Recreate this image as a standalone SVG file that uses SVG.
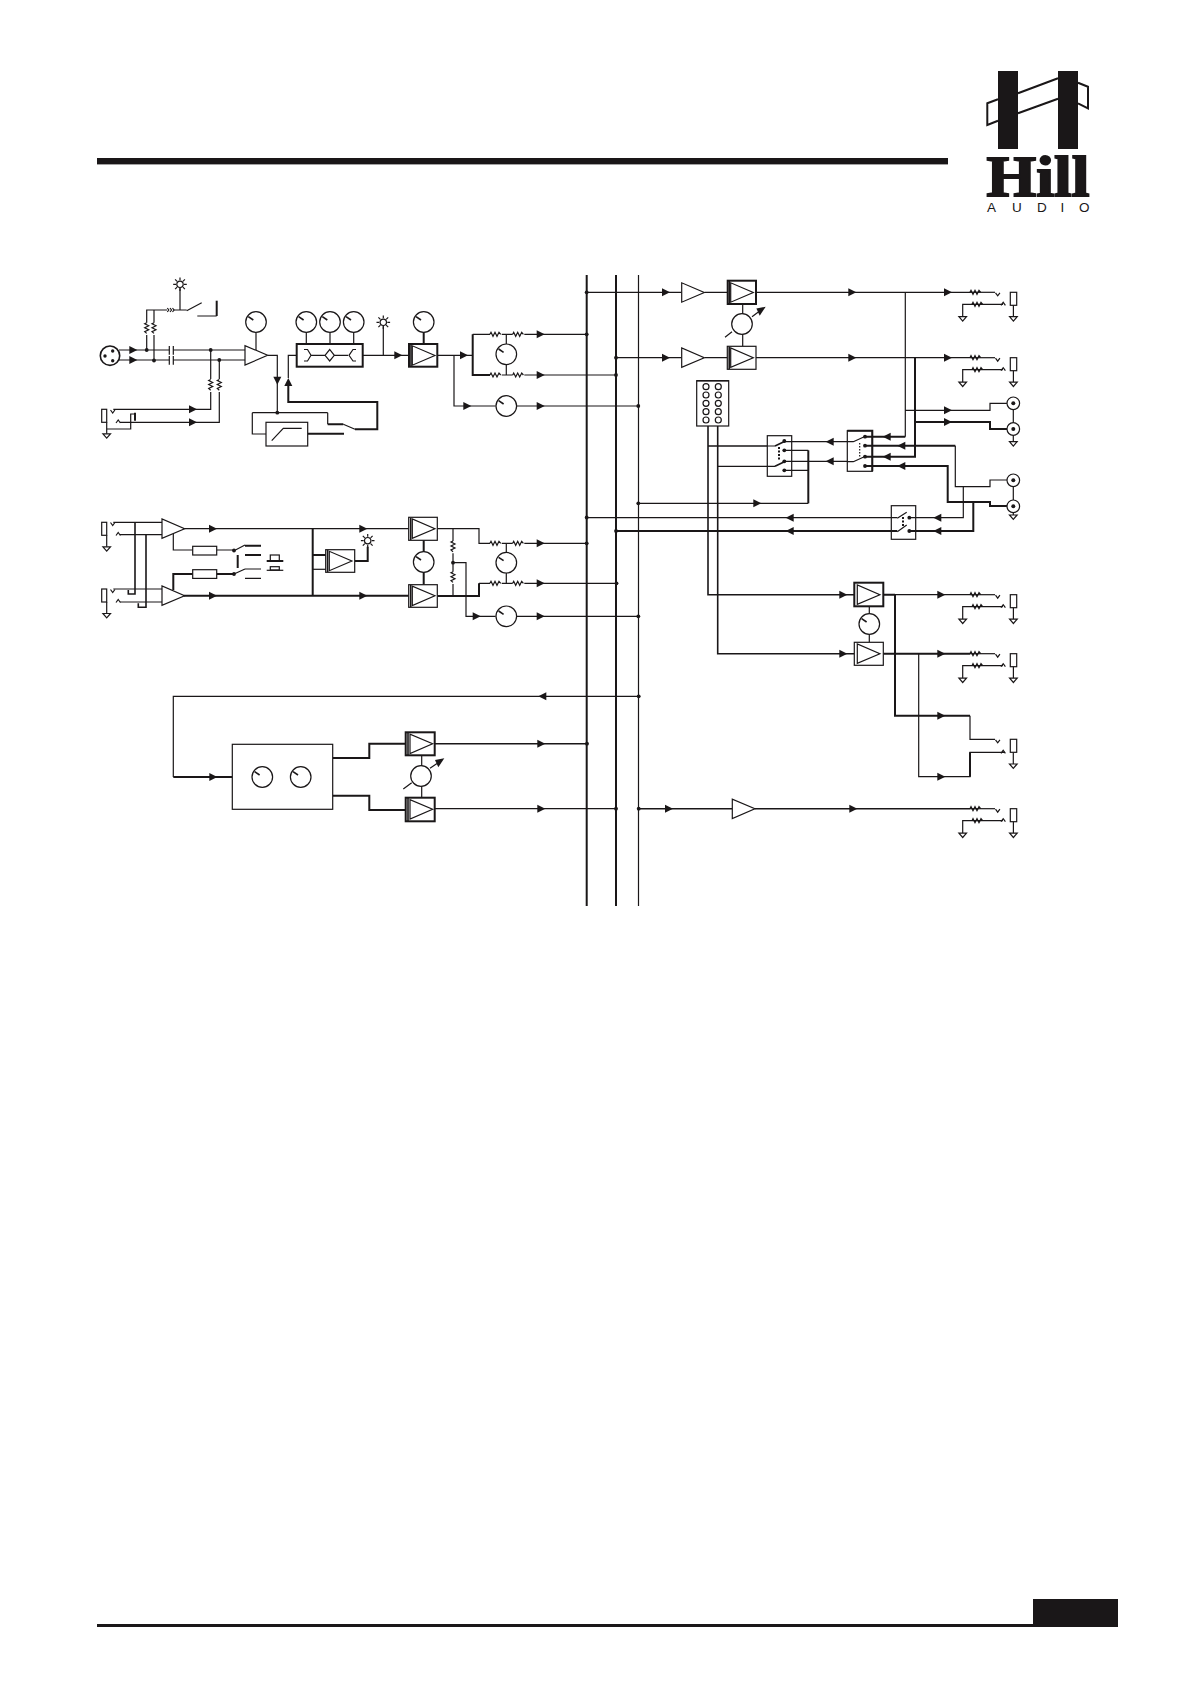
<svg xmlns="http://www.w3.org/2000/svg" width="1191" height="1685" viewBox="0 0 1191 1685">
<style>
.t{fill:none;stroke:#1a1718;stroke-width:1.2}
.k{fill:none;stroke:#1a1718;stroke-width:2}
.m{fill:none;stroke:#1a1718;stroke-width:1.6}
.b{fill:#fff;stroke:#1a1718;stroke-width:1.2}
.bk{fill:#fff;stroke:#1a1718;stroke-width:2}
.f{fill:#1a1718;stroke:none}
</style>
<defs>
<polygon id="ar" class="f" points="0,-4 8,0 0,4"/>
<polygon id="al" class="f" points="0,0 8,-4 8,4"/>
<polygon id="ad" class="f" points="-4,0 4,0 0,8"/>
<polygon id="au" class="f" points="-4,8 4,8 0,0"/>
<circle id="d" class="f" r="1.9"/>
<path id="rh" class="t" d="M0 0l1-2 2 4 2-4 2 4 2-4 1.7 2"/>
<path id="rv" class="t" d="M0 0l-2 1 4 2-4 2 4 2-4 2 2 1.7"/>
<g id="knob"><circle class="b" r="10.3"/><path class="m" d="M-7.7-5.3L-2.7-2"/></g>
<polygon id="tri" class="b" points="0,-9.7 0,9.7 22.6,0"/>
<g id="gnd"><path class="t" d="M-3.8 0H3.8L0 4.4Z"/></g>
<g id="led"><circle class="b" r="3.2"/><path class="t" d="M0-4V-6.8M0 4V6.8M-4 0H-6.8M4 0H6.8M-2.9-2.9L-4.9-4.9M2.9-2.9L4.9-4.9M-2.9 2.9L-4.9 4.9M2.9 2.9L4.9 4.9"/></g>
<g id="injack"><rect class="b" width="5" height="13"/><path class="t" d="M5 13V24.5"/><use href="#gnd" x="5" y="24.5"/></g>
<g id="tipv"><path class="t" d="M0 0l2.2 3 2.2-3"/></g>
<g id="tipc"><path class="t" d="M0 0l2.2-3 2.2 3"/></g>
<g id="out">
<path class="t" d="M0 0H25"/><use href="#rh" x="0" y="0"/>
<use href="#tipv" x="25.5" y="0.5"/>
<path class="t" d="M-7.3 24.4V12H33"/><use href="#rh" x="2" y="12"/>
<use href="#gnd" x="-7.3" y="24.4"/>
<use href="#tipc" x="31" y="13"/>
<rect class="b" x="40.3" y="0" width="6.4" height="13"/>
<path class="t" d="M43.4 13V24.4"/><use href="#gnd" x="43.4" y="24.4"/>
</g>
<g id="rca"><circle class="b" r="6.3"/><circle class="f" r="2"/></g>
</defs>
<rect width="1191" height="1685" fill="#fff"/>
<g id="page-rules">
<rect class="f" x="97" y="158" width="851" height="6.4"/>
<rect class="f" x="97" y="1624" width="1021" height="3"/>
<rect class="f" x="1033" y="1599" width="85" height="28"/>
</g>
<g id="logo">
<rect class="f" x="998" y="71" width="20" height="78"/>
<rect class="f" x="1058" y="71" width="20" height="78"/>
<path class="k" d="M998 99.3L987.3 103.3V125L998 120.7M1018 93.3L1058 78.3M1018 113.3L1058 98.7M1078 82.7L1088 86.7V108.3L1078 103.3"/>
<text x="986.5" y="196" font-family="'Liberation Serif',serif" font-weight="700" font-size="57" textLength="103" lengthAdjust="spacingAndGlyphs" fill="#1a1718" stroke="#1a1718" stroke-width="1.8">Hill</text>
<text y="212.3" x="987 1012 1037 1060.5 1079" font-family="'Liberation Sans',sans-serif" font-size="13.5" fill="#1a1718">AUDIO</text>
</g>
<g id="connectors">
<!-- buses -->
<path class="k" d="M586.7 275V906M616 275V906"/>
<path class="t" d="M638.5 275V906"/>
<!-- mic input -->
<path class="t" d="M119 350H169.3M173.3 350H245M119 360H169.3M173.3 360H245"/>
<path class="t" d="M169.3 346V354.7M173.3 346V354.7M169.3 356V364.7M173.3 356V364.7"/>
<path class="t" d="M146.7 350V335M146.7 322.7V310H167M154 360.7V335M154 322.7V310M174 310H186.7M180 288V310"/>
<path class="t" d="M167.3 308l1.5 2-1.5 2M170 308l1.5 2-1.5 2M172.5 308l1.5 2-1.5 2"/>
<path class="t" d="M186.7 310.7L201.7 302.7M197.3 316H216.7"/><path class="k" d="M216.7 316V300.7"/>
<use href="#rv" x="146.7" y="322.7"/><use href="#rv" x="154" y="322.7"/>
<path class="t" d="M113.3 409.3H210.7V392M210.7 379V350M120 422.3H219.3V392M219.3 379V360"/>
<use href="#rv" x="210.7" y="379.5"/><use href="#rv" x="219.3" y="379.5"/>
<path class="t" d="M106.7 429H130.7V414H135"/><path class="k" d="M135 412.7V420.7"/>
<path class="t" d="M256 332.7V350M267.7 355.3H277.3V412.7"/>
<path class="t" d="M288.3 378V355.3H296.7M252.3 412.7H327.7M327.7 412.7V424.3M252.3 412.7V434H266M355 429.3L343.3 424.3"/>
<path class="k" d="M288.3 385V402H377.3V429.3H355M343.3 424.3H327.7M307.7 433.7H344"/>
<path class="t" d="M306.3 332V344M330 332V344M353.7 332V344M362.7 355.3H409M383.3 326V355.3"/>
<path class="k" d="M423.7 332V344"/>
<path class="t" d="M437.3 355.3H472.7M454 355.3V406H495.7M517 406H638.3"/>
<path class="k" d="M472.7 334.3V375H490"/>
<path class="t" d="M472.7 334.3H490M524.3 334.3H586.7M501.7 334.3H512.7M501.7 375H512.7M524.3 375H616M506.3 334.3V344M506.3 364.6V375"/>
<path class="t" d="M586.7 292.3H681.7M616 357.7H681.7M704.7 292.3H727.7M704.7 357.7H727.3"/>
<path class="t" d="M742.7 304V314M742.7 334V346.3M725 337.3L732 331.7M752 316.7L759 311.6"/>
<path class="t" d="M756 292.3H970M756 357.7H970M905.3 292.3V436.7M905.3 410.3H990V403.3H1007M915 357.7V456.7"/>
<path class="k" d="M915 357.7V456.7H865M905.3 436.7H865M915 422H990V429H1007M865 445.7H955.3M865 466H947.7V502H990V506H1007M973.3 501V531H909.3"/>
<path class="t" d="M955.3 445.7V486.7H990V480H1007M963.3 486.7V517.7H909.3M1013.3 409.6V422.7M1013.3 435.3V441.7M1013.3 486.6V500M1013.3 512.6V515"/>
<!-- routing -->
<path class="m" d="M708 426V594.7H854.3M717.7 426V653.7H854.3M708 446H775"/>
<path class="t" d="M717.7 466.3H775M784.3 441.7H853.3M784.3 461.3H853.3M784.3 450.3H808.3M784.3 470.3H808.3M808.3 503.3H638.3"/>
<path class="k" d="M808.3 450.3V503.3"/>
<path class="t" d="M897.3 517.7H586.7"/><path class="k" d="M897.3 531H616"/>
<!-- outputs -->
<path class="k" d="M883.3 594.7H895M895 594.7V715.7H970M883.3 653.7H970"/>
<path class="t" d="M895 594.7H970M918.7 653.7V776.7H970V752.3H1005M970 715.7V739.3H995"/>
<path class="k" d="M970 752.3V776.7"/>
<path class="t" d="M1013.3 752.3V764"/>
<path class="t" d="M869.3 606.3V613.7M869.3 634.3V642.3"/>
<!-- line input -->
<path class="t" d="M113.3 522.3H162M120 534.7H162M113.3 589H162M120 602H162"/>
<path class="m" d="M135 522.3V594H128.3V590M146 534.7V607.3H138.3V603.3"/>
<path class="t" d="M184.3 528.7H408.7M173.3 533V550H192.7M216.7 550H233.3M245 569H261M245 578.3H261"/>
<path class="k" d="M184 595.7H408.7M173.3 590V574H192.7M216.7 574H233.3M245 545.7H261M245 555H261M312.7 528.7V595.7M312.7 555H326M354.7 561H367.7V546.7M237.7 555V568"/>
<path class="t" d="M312.7 569.3H326"/>
<path class="k" d="M423.7 540.3V552M423.7 572V584.7"/>
<path class="t" d="M437.3 528.7H479V543.3H490M501.7 543.3H512.7M524.3 543.3H586.7M453 528.7V541M453 553.3V571.7M453 584V596M453 562.7H466V616.3H495.7M517 616.3H638.3M479 583.3H490M501.7 583.3H512.7M524.3 583.3H616M506.3 543.3V552.5M506.3 573V583.3"/>
<path class="k" d="M437.3 596H479V583.3"/>
<path class="t" d="M234 550.7L245 545M234 574L245 569"/>
<!-- effects return -->
<path class="t" d="M638.7 696.3H173.3V777"/><path class="k" d="M173.3 777H232.3M332.7 758H369.3V743.7H405.7M332.7 795.7H369.3V810H405.7"/>
<path class="t" d="M421.7 755.3V766M421.7 786V797.7M403.3 789L411.7 782.7M430 768.3L437 763.4"/>
<path class="m" d="M434.7 743.7H587"/><path class="t" d="M434.7 808.7H616"/>
<path class="m" d="M638.5 808.7H732.3M754.7 808.7H970"/>
<!-- arrowheads -->
<use href="#ar" x="129.3" y="350"/><use href="#ar" x="129.3" y="360"/>
<use href="#ar" x="189" y="409.3"/><use href="#ar" x="189" y="422.3"/>
<use href="#ad" x="277.3" y="376.7"/><use href="#au" x="288.3" y="378"/>
<use href="#ar" x="394.3" y="355.3"/><use href="#ar" x="460" y="355.3"/>
<use href="#ar" x="536.7" y="334.3"/><use href="#ar" x="536.7" y="375"/>
<use href="#ar" x="463.3" y="406"/><use href="#ar" x="536.7" y="406"/>
<use href="#ar" x="662" y="292.3"/><use href="#ar" x="662" y="357.7"/>
<use href="#ar" x="848.3" y="292.3"/><use href="#ar" x="848.3" y="357.7"/>
<use href="#ar" x="944" y="292.3"/><use href="#ar" x="944" y="357.7"/>
<use href="#ar" x="944" y="410.3"/><use href="#ar" x="944" y="422"/>
<use href="#al" x="882.7" y="436.7"/><use href="#al" x="897.3" y="445.7"/>
<use href="#al" x="882.7" y="456.7"/><use href="#al" x="897.3" y="466"/>
<use href="#al" x="825.7" y="441.7"/><use href="#al" x="825.7" y="461.3"/>
<use href="#ar" x="753.3" y="503.3"/>
<use href="#al" x="933.3" y="517.7"/><use href="#al" x="933.3" y="531"/>
<use href="#al" x="785.7" y="517.7"/><use href="#al" x="785.7" y="531"/>
<use href="#ar" x="839.3" y="594.7"/><use href="#ar" x="839.3" y="653.7"/>
<use href="#ar" x="937.3" y="594.7"/><use href="#ar" x="937.3" y="653.7"/>
<use href="#ar" x="937.3" y="715.7"/><use href="#ar" x="937.3" y="776.7"/>
<use href="#ar" x="209" y="528.7"/><use href="#ar" x="209" y="595.7"/>
<use href="#ar" x="359.3" y="528.7"/><use href="#ar" x="359.3" y="595.7"/>
<use href="#ar" x="536.7" y="543.3"/><use href="#ar" x="536.7" y="583.3"/>
<use href="#ar" x="472.7" y="616.3"/><use href="#ar" x="536.7" y="616.3"/>
<use href="#al" x="538.3" y="696.3"/><use href="#ar" x="209.3" y="777"/>
<use href="#ar" x="537.3" y="743.7"/><use href="#ar" x="537.3" y="808.7"/>
<use href="#ar" x="665" y="808.7"/><use href="#ar" x="849.3" y="808.7"/>
<polygon class="f" points="444.3,758.3 435,760 438.3,767.3"/>
<polygon class="f" points="765.7,306.7 756.4,308.4 759.7,315.7"/>
<!-- junction dots -->
<use href="#d" x="586.7" y="292.3"/><use href="#d" x="616" y="357.7"/>
<use href="#d" x="586.7" y="334.3"/><use href="#d" x="616" y="375"/><use href="#d" x="638.3" y="406"/>
<use href="#d" x="638.3" y="503.3"/><use href="#d" x="586.7" y="517.5"/><use href="#d" x="616" y="531"/>
<use href="#d" x="586.7" y="543.3"/><use href="#d" x="616.5" y="583.3"/><use href="#d" x="638.3" y="616.3"/>
<use href="#d" x="638.7" y="696.3"/><use href="#d" x="587" y="743.7"/><use href="#d" x="616" y="808.7"/><use href="#d" x="638.7" y="808.7"/>
<use href="#d" x="146.7" y="350"/><use href="#d" x="154" y="360.5"/><use href="#d" x="210.7" y="350"/><use href="#d" x="219.3" y="360"/>
<use href="#d" x="277.3" y="412.7"/><use href="#d" x="453" y="562.7"/>
</g>
<g id="node-xlr"><circle class="m" cx="110" cy="355.7" r="9.7"/><circle class="f" cx="112.7" cy="351" r="1.7"/><circle class="f" cx="105" cy="356" r="1.7"/><circle class="f" cx="112.7" cy="360.7" r="1.7"/></g>
<g id="node-phantom-led"><use href="#led" x="180" y="284.3"/></g>
<g id="node-jack-insert"><use href="#injack" x="101.7" y="409.3"/><use href="#tipv" x="110.5" y="410"/><use href="#tipc" x="116" y="423"/></g>
<g id="node-preamp"><use href="#tri" x="245" y="355.3"/><use href="#knob" x="256" y="322"/></g>
<g id="node-hpf"><rect class="b" x="266" y="422.3" width="41.7" height="23.7"/><path class="t" d="M271.7 440.7L283.3 428.3H301.7"/></g>
<g id="node-eq">
<rect class="bk" x="296.7" y="344" width="66" height="22.7"/>
<path class="t" d="M304 349.5H307.5L311 355.3 307.5 361H304M311 355.3H325M325 355.3L329.7 349.5 334.3 355.3 329.7 361ZM334.3 355.3H348M356 349.5H353L349 355.3 353 361H356"/>
<use href="#knob" x="306.3" y="322"/><use href="#knob" x="330" y="322"/><use href="#knob" x="353.7" y="322"/>
</g>
<g id="node-peak-led"><use href="#led" x="383.3" y="322.3"/></g>
<g id="node-fader-1"><rect class="bk" x="409" y="344" width="28.3" height="22.7"/><path class="m" d="M411 345V366"/><use href="#tri" x="412.3" y="355.5"/><use href="#knob" x="423.7" y="322"/></g>
<g id="node-pan-1"><use href="#knob" x="506.3" y="354.3"/><use href="#rh" x="490" y="334.3"/><use href="#rh" x="512.7" y="334.3"/><use href="#rh" x="490" y="375"/><use href="#rh" x="512.7" y="375"/></g>
<g id="node-aux-1"><use href="#knob" x="506.3" y="406"/></g>
<g id="node-jack-a"><use href="#injack" x="101.7" y="522.3"/><use href="#tipv" x="110.5" y="522.5"/><use href="#tipc" x="116" y="535.5"/></g>
<g id="node-jack-b"><use href="#injack" x="101.7" y="589"/><use href="#tipv" x="110.5" y="589.5"/><use href="#tipc" x="116" y="602.5"/></g>
<g id="node-stereo-a"><use href="#tri" x="162" y="528.7"/></g>
<g id="node-stereo-b"><use href="#tri" x="162" y="595.7"/></g>
<g id="node-filter"><rect class="b" x="192.7" y="546.3" width="24" height="8.7"/><rect class="b" x="192.7" y="569.7" width="24" height="8.7"/>
<use href="#d" x="234" y="550.5"/><use href="#d" x="234" y="574"/></g>
<g id="node-pushbutton"><rect class="t" x="270.3" y="555" width="9" height="6"/><path class="k" d="M266.7 561H283.3"/><rect class="t" x="270.3" y="566.7" width="9" height="3.3"/><path class="t" d="M266.7 570.3H283.3"/></g>
<g id="node-meter-amp"><rect class="b" x="325.7" y="549.7" width="29" height="22.6"/><path class="m" d="M327.6 550V572"/><use href="#tri" x="329.3" y="561"/><use href="#led" x="367.7" y="540.7"/></g>
<g id="node-fader-2"><rect class="b" x="408.7" y="517.3" width="28.6" height="23"/><path class="m" d="M410.7 518V540"/><use href="#tri" x="412.3" y="528.7"/><rect class="b" x="408.7" y="584.7" width="28.6" height="22.6"/><path class="m" d="M410.7 585V607"/><use href="#tri" x="412.3" y="595.8"/><use href="#knob" x="423.7" y="562"/></g>
<g id="node-mix-res"><use href="#rv" x="453" y="541"/><use href="#rv" x="453" y="571.7"/></g>
<g id="node-pan-2"><use href="#knob" x="506.3" y="562.7"/><use href="#rh" x="490" y="543.3"/><use href="#rh" x="512.7" y="543.3"/><use href="#rh" x="490" y="583.3"/><use href="#rh" x="512.7" y="583.3"/></g>
<g id="node-aux-2"><use href="#knob" x="506.3" y="616.3"/></g>
<g id="node-fx"><rect class="b" x="232.3" y="744.3" width="100.4" height="65"/><use href="#knob" x="262.3" y="777"/><use href="#knob" x="300.7" y="777"/></g>
<g id="node-fx-amps"><rect class="bk" x="405.7" y="732.3" width="29" height="23"/><path class="m" d="M408 733V755"/><use href="#tri" x="410" y="743.8"/><rect class="bk" x="405.7" y="797.7" width="29" height="23.6"/><path class="m" d="M408 798V821"/><use href="#tri" x="410" y="809.3"/><circle class="b" cx="421" cy="776" r="10.3"/></g>
<g id="node-main-amps">
<use href="#tri" x="681.7" y="292.5"/><use href="#tri" x="681.7" y="357.7"/>
<rect class="bk" x="727.7" y="280.7" width="28.3" height="23.3"/><path class="m" d="M729.4 281V304"/><use href="#tri" x="730.7" y="292.5"/>
<rect class="b" x="727.3" y="346.3" width="28.7" height="23"/><path class="m" d="M729.2 347V369"/><use href="#tri" x="730.7" y="357.7"/>
<circle class="b" cx="742" cy="324" r="10.3"/>
</g>
<g id="node-matrix"><rect class="b" x="696.7" y="380.7" width="32" height="45.3"/><path class="m" d="M696.7 380.7H728.7"/>
<g class="t"><circle cx="706" cy="386.7" r="3"/><circle cx="718.3" cy="386.7" r="3"/><circle cx="706" cy="395" r="3"/><circle cx="718.3" cy="395" r="3"/><circle cx="706" cy="403.3" r="3"/><circle cx="718.3" cy="403.3" r="3"/><circle cx="706" cy="411.7" r="3"/><circle cx="718.3" cy="411.7" r="3"/><circle cx="706" cy="420" r="3"/><circle cx="718.3" cy="420" r="3"/></g></g>
<g id="node-switch-1"><rect class="b" x="767.3" y="435.7" width="24.4" height="40.6"/>
<path class="t" d="M767.3 446H775M767.3 466.3H775M784.3 441.7H791.7M784.3 450.3H791.7M784.3 461.3H791.7M784.3 470.3H791.7"/>
<path class="m" d="M775 446L786 440.7M775 466.3L786 461"/><path class="k" d="M779 447V460" stroke-dasharray="2 1.5"/>
<use href="#d" x="784.3" y="441"/><use href="#d" x="784.3" y="450.3"/><use href="#d" x="784.3" y="461.3"/><use href="#d" x="784.3" y="470.3"/></g>
<g id="node-switch-2"><rect class="b" x="847.3" y="430.7" width="25" height="40.6"/><path class="k" d="M847.3 430.7H872.3V471.3"/>
<path class="k" d="M865 436.7H872.3M865 445.7H872.3M865 456.7H872.3M865 466H872.3"/>
<path class="t" d="M847.3 441.7H853.3M847.3 461.7H853.3M853.3 441.7L864.3 436.7M853.3 461.7L864.3 456.7"/><path class="t" d="M859.7 443V457" stroke-dasharray="1.5 1.5"/>
<use href="#d" x="865" y="436.7"/><use href="#d" x="865" y="445.7"/><use href="#d" x="865" y="456.7"/><use href="#d" x="865" y="466"/></g>
<g id="node-switch-3"><rect class="b" x="891.3" y="505.7" width="24.4" height="33.6"/>
<path class="t" d="M891.3 517.7H897.3M909.3 517.7H915.7"/><path class="k" d="M891.3 531H897.3M909.3 531H915.7"/>
<path class="t" d="M897.3 518.3L906.7 512.3M897.3 531.7L906.7 525"/><path class="k" d="M903 517V526" stroke-dasharray="2 1.5"/>
<use href="#d" x="909.3" y="517.7"/><use href="#d" x="909.3" y="531"/></g>
<g id="node-monitor-amps"><rect class="bk" x="854.3" y="582.7" width="29" height="23.6"/><use href="#tri" x="857.3" y="594.7"/><rect class="b" x="854.3" y="642.3" width="29" height="23"/><use href="#tri" x="857.3" y="653.7"/><use href="#knob" x="869.3" y="624"/></g>
<g id="node-sub-amp"><use href="#tri" x="732.3" y="808.8"/></g>
<g id="node-output-1"><use href="#out" x="970" y="292.3"/></g>
<g id="node-output-2"><use href="#out" x="970" y="357.7"/></g>
<g id="node-rca-1"><use href="#rca" x="1013.3" y="403.3"/><use href="#rca" x="1013.3" y="429"/><use href="#gnd" x="1013.3" y="441.7"/></g>
<g id="node-rca-2"><use href="#rca" x="1013.3" y="480.3"/><use href="#rca" x="1013.3" y="506.3"/><use href="#gnd" x="1013.3" y="515"/></g>
<g id="node-output-3"><use href="#out" x="970" y="594.7"/></g>
<g id="node-output-4"><use href="#out" x="970" y="653.7"/></g>
<g id="node-output-5"><use href="#tipv" x="995.5" y="739.8"/><use href="#tipc" x="1001" y="753.3"/><rect class="b" x="1010.3" y="739.3" width="6.4" height="13"/><use href="#gnd" x="1013.3" y="764"/></g>
<g id="node-output-6"><use href="#out" x="970" y="808.7"/></g>
</svg>
